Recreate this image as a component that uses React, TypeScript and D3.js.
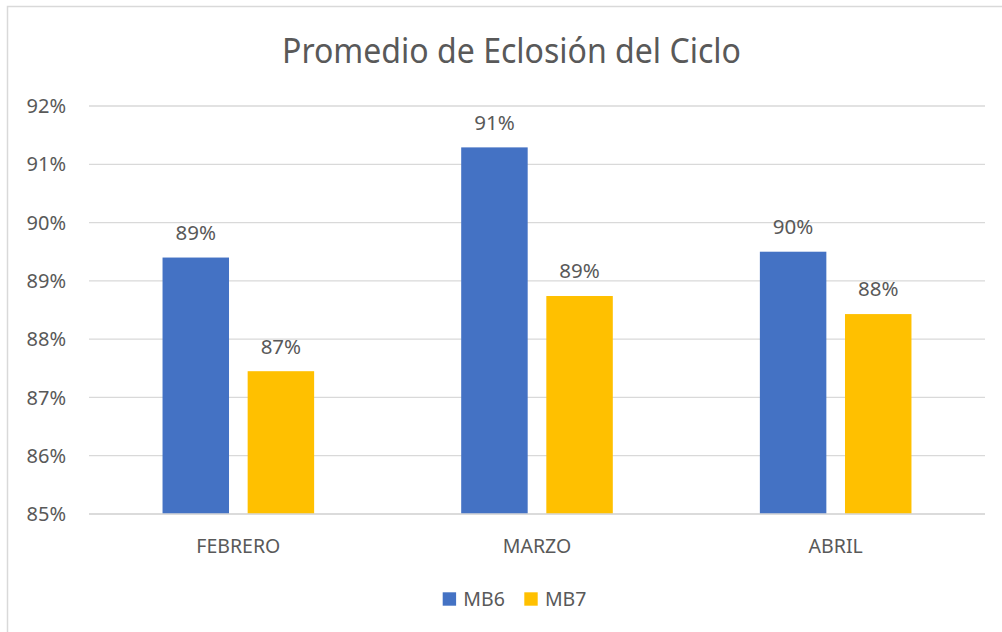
import React from "react";
import * as d3 from "d3";

const categories = ["FEBRERO", "MARZO", "ABRIL"];
const seriesNames = ["MB6", "MB7"];
const mb6 = [0.894, 0.9129, 0.895];
const mb7 = [0.8745, 0.8874, 0.8843];
const yTicks = [0.85, 0.86, 0.87, 0.88, 0.89, 0.9, 0.91, 0.92];
const colors = ["#4472C4", "#FFC000"];
const title = "Promedio de Eclosión del Ciclo";

const W = 1002;
const H = 632;
const FONT = "'Noto Sans', 'Open Sans', sans-serif";
const TXT = "#595959";

export default function App() {
  const left = 89;
  const right = 985;
  const top = 106;
  const bottom = 514;

  const y = d3.scaleLinear().domain([0.85, 0.92]).range([bottom, top]);
  const x0 = d3.scaleBand<string>().domain(categories).range([left, right]).padding(0);
  const bw = x0.bandwidth();
  const groupW = 151.6;
  const x1 = d3
    .scaleBand<string>()
    .domain(seriesNames)
    .range([(bw - groupW) / 2, (bw + groupW) / 2])
    .paddingInner(0.219)
    .paddingOuter(0);

  const series = [mb6, mb7];
  const fmt = d3.format(".0%");

  return (
    <svg
      width={W}
      height={H}
      style={{ position: "absolute", left: 0, top: 0, background: "#fff" }}
      fontFamily={FONT}
    >
      <rect x={0} y={0} width={W} height={H} fill="#fff" />
      <rect x={7.5} y={6.5} width={W + 20} height={H + 20} fill="none" stroke="#d9d9d9" strokeWidth={1.5} />
      <text
        x={511.5}
        y={63}
        textAnchor="middle"
        fontSize={34}
        fill={TXT}
        textLength={459}
        lengthAdjust="spacingAndGlyphs"
      >
        {title}
      </text>
      {yTicks.map((t) => (
        <g key={t}>
          <line x1={left} x2={right} y1={y(t)} y2={y(t)} stroke="#d9d9d9" strokeWidth={1.3} />
          <text x={66} y={y(t)} dy="0.36em" textAnchor="end" fontSize={20} fill={TXT}>
            {fmt(t)}
          </text>
        </g>
      ))}
      {categories.map((c, i) => (
        <g key={c} transform={`translate(${x0(c)},0)`}>
          {seriesNames.map((s, j) => {
            const v = series[j][i];
            const bx = x1(s)!;
            return (
              <g key={s}>
                <rect x={bx} y={y(v)} width={x1.bandwidth()} height={bottom - y(v)} fill={colors[j]} />
                <text
                  x={bx + x1.bandwidth() / 2}
                  y={y(v) - 17.7}
                  textAnchor="middle"
                  fontSize={20.5}
                  fill={TXT}
                >
                  {fmt(v)}
                </text>
              </g>
            );
          })}
          <text x={bw / 2} y={553} textAnchor="middle" fontSize={19.5} fill={TXT}>
            {c}
          </text>
        </g>
      ))}
      <line x1={left} x2={right} y1={bottom} y2={bottom} stroke="#d9d9d9" strokeWidth={1.5} />
      {seriesNames.map((s, j) => {
        const lx = 442.7 + j * 81.6;
        return (
          <g key={s}>
            <rect x={lx} y={592.3} width={13.4} height={13.4} fill={colors[j]} />
            <text x={lx + 20.6} y={605.7} fontSize={19.5} fill={TXT}>
              {s}
            </text>
          </g>
        );
      })}
    </svg>
  );
}
